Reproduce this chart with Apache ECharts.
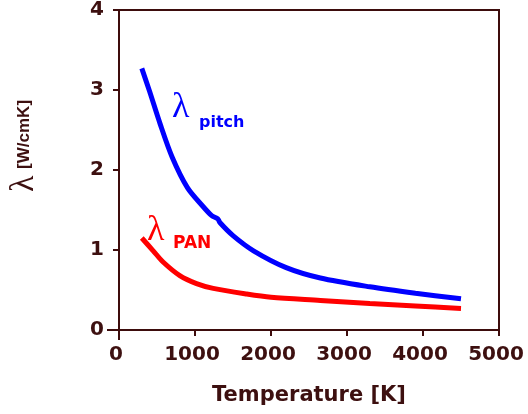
<!DOCTYPE html>
<html>
<head>
<meta charset="utf-8">
<script src="https://cdn.jsdelivr.net/npm/echarts@6/dist/echarts.min.js"></script>
<style>html,body{margin:0;padding:0;background:#fff;}#c{width:528px;height:414px;}</style>
</head>
<body>
<div id="c"></div>
<script>
var xTicks = [0, 1000, 2000, 3000, 4000, 5000];
var yTicks = [0, 1, 2, 3, 4];
var pitchT = [300, 400, 540, 700, 900, 1100, 1220, 1300, 1330, 1500, 1770, 2200, 2650, 3300, 3900, 4500];
var pitchL = [3.27, 2.99, 2.58, 2.16, 1.78, 1.55, 1.43, 1.39, 1.34, 1.18, 0.99, 0.78, 0.65, 0.54, 0.46, 0.39];
var panT = [300, 450, 580, 800, 1020, 1240, 1680, 2000, 2650, 3300, 3900, 4500];
var panL = [1.15, 0.99, 0.85, 0.68, 0.58, 0.52, 0.45, 0.41, 0.37, 0.33, 0.30, 0.27];

var axisCol = '#3d0c0c';
var textCol = '#3d1010';
function pairs(xs, ys){ return xs.map(function(x,i){ return [x, ys[i]]; }); }
function plain(v){ return String(v); }

var chart = echarts.init(document.getElementById('c'), null, {renderer:'canvas'});
chart.setOption({
  animation: false,
  grid: {left:119, right:29, top:7, bottom:84, show:true, borderColor:axisCol, borderWidth:2, backgroundColor:'transparent'},
  xAxis: {
    type:'value', min:xTicks[0], max:xTicks[xTicks.length-1], interval:1000,
    axisLine:{lineStyle:{color:axisCol, width:2}},
    axisTick:{show:true, inside:false, length:6, lineStyle:{color:axisCol, width:2}},
    splitLine:{show:false},
    axisLabel:{color:textCol, fontFamily:'DejaVu Sans', fontWeight:'bold', fontSize:20, margin:15, padding:[0,6,0,0], formatter:plain},
    name:'Temperature [K]', nameLocation:'middle', nameGap:55,
    nameTextStyle:{color:textCol, fontFamily:'DejaVu Sans', fontWeight:'bold', fontSize:21}
  },
  yAxis: {
    type:'value', min:yTicks[0], max:yTicks[yTicks.length-1], interval:1,
    axisLine:{lineStyle:{color:axisCol, width:2}},
    axisTick:{show:true, inside:false, length:6, lineStyle:{color:axisCol, width:2}},
    splitLine:{show:false},
    axisLabel:{color:textCol, fontFamily:'DejaVu Sans', fontWeight:'bold', fontSize:20, margin:15, formatter:plain}
  },
  series: [
    {type:'line', data:pairs(pitchT, pitchL), showSymbol:false, smooth:0.3, lineStyle:{color:'#0000ff', width:5}},
    {type:'line', data:pairs(panT, panL), showSymbol:false, smooth:0.3, lineStyle:{color:'#ff0000', width:5}}
  ],
  graphic: [
    {id:'ytitle', type:'text', x:24, y:146, rotation:Math.PI/2, style:{
      text:'{l|λ}  {b|[W/cmK]}', align:'center', verticalAlign:'middle',
      rich:{
        l:{fontFamily:'Liberation Serif', fontSize:34, fill:textCol, fontWeight:'normal'},
        b:{fontFamily:'Liberation Sans', fontSize:17, fontWeight:'bold', fill:textCol}
      }}},
    {id:'lp', type:'text', x:172, y:108, style:{text:'λ', fontFamily:'Liberation Serif', fontSize:36, fill:'#0000ff', verticalAlign:'middle'}},
    {id:'sp', type:'text', x:199, y:123, style:{text:'pitch', fontFamily:'DejaVu Sans', fontWeight:'bold', fontSize:16, fill:'#0000ff', verticalAlign:'middle'}},
    {id:'ln', type:'text', x:147, y:231, style:{text:'λ', fontFamily:'Liberation Serif', fontSize:36, fill:'#ff0000', verticalAlign:'middle'}},
    {id:'sn', type:'text', x:173, y:244, style:{text:'PAN', fontFamily:'DejaVu Sans', fontWeight:'bold', fontSize:17, fill:'#ff0000', verticalAlign:'middle'}}
  ]
});
var o = chart.convertToPixel({gridIndex:0}, [xTicks[0], yTicks[0]]);
chart.setOption({graphic: [
  {id:'ox', type:'line', shape:{x1:o[0]-12, y1:o[1], x2:o[0], y2:o[1]}, style:{stroke:axisCol, lineWidth:2}},
  {id:'oy', type:'line', shape:{x1:o[0], y1:o[1], x2:o[0], y2:o[1]+10}, style:{stroke:axisCol, lineWidth:2}}
]});
</script>
</body>
</html>
